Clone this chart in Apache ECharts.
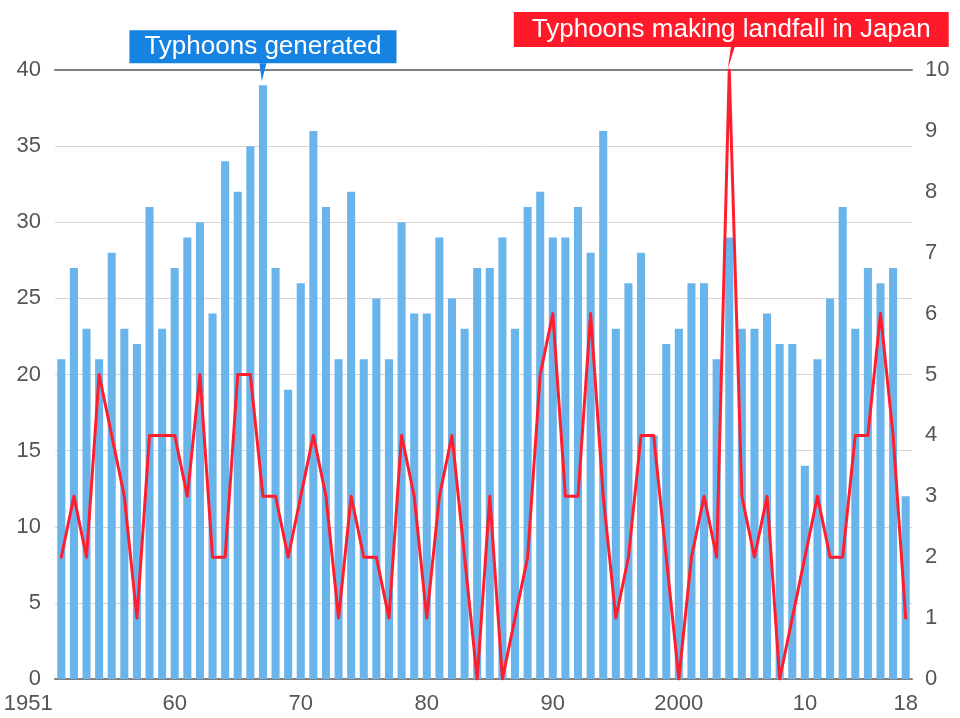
<!DOCTYPE html>
<html>
<head>
<meta charset="utf-8">
<script src="https://cdn.jsdelivr.net/npm/echarts@6/dist/echarts.min.js"></script>
<style>
html,body{margin:0;padding:0;background:#fff;}
#chart{width:960px;height:718px;}
</style>
</head>
<body>
<div id="chart"></div>
<script>
const years = [1951,1952,1953,1954,1955,1956,1957,1958,1959,1960,
  1961,1962,1963,1964,1965,1966,1967,1968,1969,1970,
  1971,1972,1973,1974,1975,1976,1977,1978,1979,1980,
  1981,1982,1983,1984,1985,1986,1987,1988,1989,1990,
  1991,1992,1993,1994,1995,1996,1997,1998,1999,2000,
  2001,2002,2003,2004,2005,2006,2007,2008,2009,2010,
  2011,2012,2013,2014,2015,2016,2017,2018];

const generated = [21,27,23,21,28,23,22,31,23,27,
  29,30,24,34,32,35,39,27,19,26,
  36,31,21,32,21,25,21,30,24,24,
  29,25,23,27,27,29,23,31,32,29,
  29,31,28,36,23,26,28,16,22,23,
  26,26,21,29,23,23,24,22,22,14,
  21,25,31,23,27,26,27,12];

const landfall = [2,3,2,5,4,3,1,4,4,4,
  3,5,2,2,5,5,3,3,2,3,
  4,3,1,3,2,2,1,4,3,1,
  3,4,2,0,3,0,1,2,5,6,
  3,3,6,3,1,2,4,4,2,0,
  2,3,2,10,3,2,3,0,1,2,
  3,2,2,4,4,6,4,1];

const tickYears = [1951,1960,1970,1980,1990,2000,2010,2018];
const tickLabels = ['1951','60','70','80','90','2000','10','18'];

const leftTicks = {min:0, max:40, interval:5};
const rightTicks = {min:0, max:10, interval:1};

const seriesNames = ['Typhoons generated','Typhoons making landfall in Japan'];

const chart = echarts.init(document.getElementById('chart'));
const FONT = '"Liberation Sans", Arial, Helvetica, sans-serif';
const labelColor = '#555';

const genMax = Math.max(...generated);
const genMaxIdx = generated.indexOf(genMax);
const landMax = Math.max(...landfall);
const landMaxIdx = landfall.indexOf(landMax);

chart.setOption({
  animation:false,
  backgroundColor:'#fff',
  textStyle:{fontFamily:FONT},
  grid:{left:55,right:48,top:70,bottom:39,containLabel:false},
  xAxis:[{
    type:'category',
    data:years.map(String),
    boundaryGap:true,
    axisLine:{show:true,onZero:false,lineStyle:{color:'#808080',width:2}},
    axisTick:{show:false},
    axisLabel:{
      color:labelColor,fontSize:22,fontFamily:FONT,margin:14,
      interval:(i,v)=>tickYears.indexOf(Number(v))>=0,
      formatter:(v)=>{
        const k = tickYears.indexOf(Number(v));
        if (k===0) return '{first|'+tickLabels[k]+'}';
        return k>=0?tickLabels[k]:'';
      },
      rich:{first:{color:labelColor,fontSize:22,fontFamily:FONT,padding:[0,66,0,0]}}
    },
    splitLine:{show:false}
  },{
    type:'category',
    position:'top',
    data:years.map(String),
    axisLine:{show:true,onZero:false,lineStyle:{color:'#808080',width:2}},
    axisTick:{show:false},
    axisLabel:{show:false},
    splitLine:{show:false}
  }],
  yAxis:[{
    type:'value',
    min:leftTicks.min,max:leftTicks.max,interval:leftTicks.interval,
    axisLine:{show:false},axisTick:{show:false},
    axisLabel:{color:labelColor,fontSize:22,fontFamily:FONT,margin:14},
    splitLine:{show:true,lineStyle:{color:'#d6d6d6',width:1}}
  },{
    type:'value',
    min:rightTicks.min,max:rightTicks.max,interval:rightTicks.interval,
    axisLine:{show:false},axisTick:{show:false},
    axisLabel:{color:labelColor,fontSize:22,fontFamily:FONT,margin:13},
    splitLine:{show:false}
  }],
  series:[{
    name:seriesNames[0],
    type:'bar',
    xAxisIndex:0,yAxisIndex:0,
    data:generated,
    barWidth:'64%',
    itemStyle:{color:'#6ab4ec'},
    z:2,
    markPoint:{
      z:10,
      data:[{
        coord:[genMaxIdx, genMax],
        symbol:'path://M3,0 L9,0 L5,30 Z',
        symbolSize:[7,18],
        symbolOffset:[0,-13],
        itemStyle:{color:'#1683e2'},
        label:{
          show:true,position:'top',distance:0,
          formatter:seriesNames[0],
          color:'#fff',fontSize:26,fontFamily:FONT,lineHeight:27,
          backgroundColor:'#1683e2',padding:[3,15,3,15]
        }
      }]
    }
  },{
    name:seriesNames[1],
    type:'line',
    xAxisIndex:0,yAxisIndex:1,
    data:landfall,
    showSymbol:false,
    symbol:'none',
    lineStyle:{color:'#ff1e2e',width:3,join:'round',cap:'round'},
    itemStyle:{color:'#ff1e2e'},
    z:5,
    markPoint:{
      z:10,
      data:[{
        coord:[landMaxIdx, landMax],
        symbol:'path://M6,0 L12,0 L1,30 Z',
        symbolSize:[7,22],
        symbolOffset:[2,-12],
        itemStyle:{color:'#ff1a2a'},
        label:{
          show:true,position:'top',distance:0,
          formatter:seriesNames[1],
          color:'#fff',fontSize:26,fontFamily:FONT,lineHeight:27,
          backgroundColor:'#ff1a2a',padding:[4,18,4,18]
        }
      }]
    }
  }]
});
</script>
</body>
</html>
